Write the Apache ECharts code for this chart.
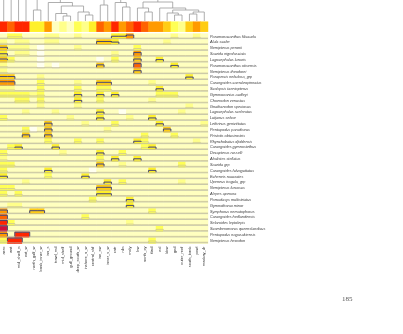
<!DOCTYPE html>
<html><head><meta charset="utf-8">
<script src="https://cdn.jsdelivr.net/npm/echarts@6/dist/echarts.min.js"></script>
<style>html,body{margin:0;padding:0;background:#fff}#c{width:403px;height:334px}</style>
</head><body><div id="c"></div>
<script>
// ---- data ----
const columns = ["aero","wnt","mid_shelf_n","ext_w","north_gulf_w","bank_inner_w","inn_s","trawl_md","mid_shelf","gulf_ground","deep_south_w","inshore_n_w","central_shf","ine_sw","inner_s_w","cntr","rdn","mcly","lrw","north_cy","tlwd","ecl","kbw","ged","outer_reef","south_bank","pcwl","mackay_dr"];
const species = ["Paramonacanthus filicauda","Alula scabe","Nemipterus peronii","Saurida nigrofasciata","Lagocephalus lunaris","Paramonacanthus otisensis","Nemipterus theodorei","Parapercis nebulosa_grp","Carangoides caeruleopinnatus","Scolopsis taeniopterus","Gymnocranius audleyi","Choerodon venustus","Gnathanodon speciosus","Lagocephalus sceleratus","Lutjanus sebae","Lethrinus genivittatus","Pentapodus paradiseus","Pristotis obtusirostris","Rhynchobatus djiddensis","Carangoides gymnostethus","Decapterus russelli","Abalistes stellatus","Saurida grp","Carangoides fulvoguttatus","Echeneis naucrates","Upeneus tragula_grp","Nemipterus furcosus","Alepes apercna","Pomadasys multistriatus","Gymnothorax minor","Symphorus nematophorus","Carangoides hedlandensis","Selaroides leptolepis","Scomberomorus queenslandicus","Pentapodus nagasakiensis","Nemipterus hexodon"];
// one string per species row, one digit (level 0-9) per column
const cellRows = [
"1331112211211114461111121121",
"2122112211111554111111211111",
"5222101111211111113111111111",
"4122101111111112116111111111",
"5311101111111013115114111111",
"2111101011111511117111141111",
"2111111111111111115111111111",
"5511121111111111111111111411",
"6611131111211551111121111111",
"2211131111311331111114111111",
"3333231111411414111113331111",
"1133131111411311111121111111",
"1111121111211111111111111211",
"1112111211111411011111112111",
"3111111112111411121141111111",
"1111115111121113111114111112",
"1113015111111121111111511111",
"1115115111111111111311131111",
"1111113111311311114311111121",
"1341111411111111111341111111",
"3111111121111411311111111111",
"2111111111111314114111111111",
"3311111111111511211111113111",
"3111114111110111111141111111",
"4111113111141111111111111111",
"1112111111111141311111112111",
"3311111111111551111111111111",
"3131111111111441111111111111",
"1111111111113111141111111111",
"1221111111111111141111111111",
"6111551111111111111131111111",
"7111111111131111111111111111",
"8311111111111111121111111111",
"9111111111111111111113111111",
"6188111111111111111111111111",
"3881111111111111111131111111"
];
const columnBar = [8,7,8,8,4,4,6,1,2,1,3,2,4,7,6,8,6,7,8,7,6,6,5,3,2,5,6,5];
// dendrogram merges: [left node, right node, height]; leaves 0-27, new nodes from 28
const linkage = [
[4,5,11],[8,9,5],[7,29,7.5],[11,12,6],[10,31,9],[30,32,15],[6,33,18.5],[28,34,24],
[13,14,16],[16,17,14],[15,37,18.5],[19,20,9],[18,39,13],[23,24,6],[22,41,8],[25,26,7],
[43,27,9],[42,44,11],[21,45,13],[40,46,19],[38,47,22],[36,48,26],[0,1,30],[2,3,32],
[50,51,34],[35,49,30],[52,53,40]
];
const palette = ['#fffff0','#ffffbf','#ffff8a','#ffff55','#fff02a','#ffcc14','#ff9a00','#ff6200','#ff2600','#d0103a'];
const pageNumber = '185';

// ---- build ----
const cells = cellRows.map(s => s.split('').map(Number));
const heatData = [];
cells.forEach((row, r) => row.forEach((v, c) => heatData.push([c, r, v])));
const barData = columnBar.map((v, c) => [c, 0, v]);

const nodeX = columns.map((_, i) => i), nodeH = columns.map(() => 0);
const dendroSegs = [];
linkage.forEach(([a, b, h]) => {
  dendroSegs.push([nodeX[a], nodeH[a], nodeX[b], nodeH[b], h]);
  nodeX.push((nodeX[a] + nodeX[b]) / 2); nodeH.push(h);
});

const chart = echarts.init(document.getElementById('c'), null, {renderer: 'canvas'});
const labelFont = 'Liberation Sans';
chart.setOption({
  animation: false,
  backgroundColor: '#fff',
  grid: [
    {left: 0, top: 0, width: 208, height: 21},
    {left: 0, top: 21.7, width: 208, height: 10},
    {left: 0, top: 33.6, width: 208, height: 210}
  ],
  xAxis: [
    {gridIndex: 0, type: 'value', min: -0.5, max: 27.5, show: false},
    {gridIndex: 1, type: 'category', data: columns, show: false},
    {gridIndex: 2, type: 'category', data: columns, axisLine: {show: false}, axisTick: {show: false}, splitLine: {show: false},
     axisLabel: {rotate: 90, interval: 0, fontSize: 4, color: '#333', margin: 3, fontFamily: labelFont}}
  ],
  yAxis: [
    {gridIndex: 0, type: 'value', min: 0, max: 21, show: false},
    {gridIndex: 1, type: 'category', data: ['group'], show: false},
    {gridIndex: 2, type: 'category', data: species, inverse: true, position: 'right', axisLine: {show: false}, axisTick: {show: false}, splitLine: {show: false},
     axisLabel: {interval: 0, fontSize: 3.8, fontStyle: 'italic', color: '#3a3a3a', margin: 2, fontFamily: labelFont}}
  ],
  visualMap: [{type: 'piecewise', show: false, seriesIndex: [1, 2], dimension: 2,
    pieces: palette.map((c, i) => ({value: i, color: c}))}],
  series: [
    {type: 'custom', xAxisIndex: 0, yAxisIndex: 0, clip: true, data: dendroSegs,
     renderItem: (params, api) => {
       const p1 = api.coord([api.value(0), api.value(1)]);
       const p2 = api.coord([api.value(0), api.value(4)]);
       const p3 = api.coord([api.value(2), api.value(4)]);
       const p4 = api.coord([api.value(2), api.value(3)]);
       return {type: 'polyline', shape: {points: [p1, p2, p3, p4]}, style: {stroke: '#9a9a9a', lineWidth: 0.8, fill: null}};
     }},
    {type: 'heatmap', xAxisIndex: 1, yAxisIndex: 1, data: barData},
    {type: 'heatmap', xAxisIndex: 2, yAxisIndex: 2, data: heatData},
    {type: 'custom', xAxisIndex: 2, yAxisIndex: 2, data: species.map((s, r) => [0, r]), z: 5,
     renderItem: (params, api) => {
       const r = params.dataIndex;
       const lv = cells[r];
       const sz = api.size([1, 1]);
       const w = sz[0], h = sz[1];
       const pts = [], children = [];
       const first = api.coord([0, r]), last = api.coord([columns.length - 1, r]);
       const yb = first[1] + h / 2;
       children.push({type: 'line', shape: {x1: first[0] - w / 2, y1: yb - 0.8, x2: last[0] + w / 2, y2: yb - 0.8},
         style: {stroke: '#b2b2a8', lineWidth: 0.7}});
       const ys = lv.map(v => yb - 0.8 - v / 9 * (h - 0.5));
       lv.forEach((v, c) => {
         const p = api.coord([c, r]);
         pts.push([p[0] - w / 2, ys[c]], [p[0] + w / 2, ys[c]]);
       });
       children.push({type: 'polyline', shape: {points: pts}, style: {stroke: '#c8c29a', lineWidth: 0.7, fill: null}});
       lv.forEach((v, c) => {
         if (v >= 4) {
           const p = api.coord([c, r]);
           const prev = c > 0 ? ys[c - 1] : ys[c], next = c < lv.length - 1 ? ys[c + 1] : ys[c];
           children.push({type: 'polyline', shape: {points: [[p[0] - w / 2, prev], [p[0] - w / 2, ys[c]], [p[0] + w / 2, ys[c]], [p[0] + w / 2, next]]},
             style: {stroke: '#2c2c68', lineWidth: 0.8, fill: null}});
         }
       });
       return {type: 'group', children};
     }}
  ],
  graphic: [{type: 'text', left: 342, top: 296, style: {text: pageNumber, fontSize: 7, fontFamily: 'Liberation Serif', fill: '#555'}}]
});
</script></body></html>
